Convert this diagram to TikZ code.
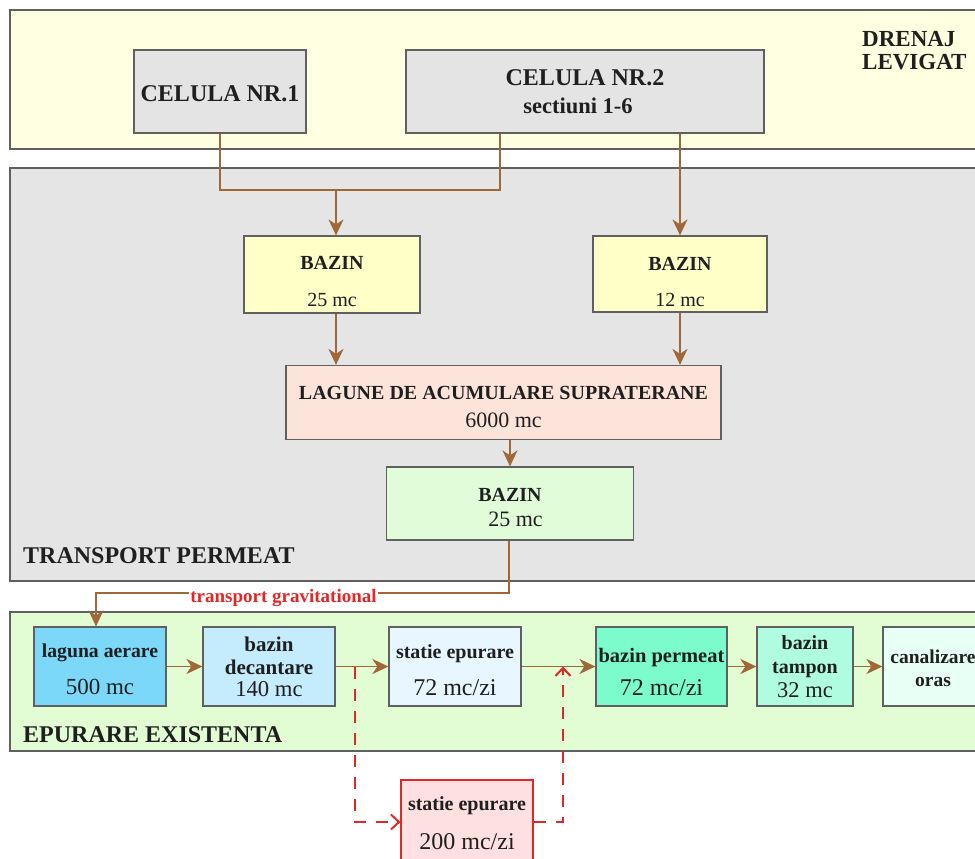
\documentclass[tikz,border=0pt]{standalone}
\usepackage{fontspec}
\setmainfont{Liberation Serif}
\usetikzlibrary{arrows.meta,calc}
\definecolor{pyel}{HTML}{FFFFE2}
\definecolor{pgray}{HTML}{E5E5E5}
\definecolor{pgreen}{HTML}{E2FCD4}
\definecolor{cgray}{HTML}{E4E4E4}
\definecolor{byel}{HTML}{FFFFC8}
\definecolor{lpink}{HTML}{FCE4DA}
\definecolor{lgreen}{HTML}{E0FCD8}
\definecolor{cblue}{HTML}{7CD8F8}
\definecolor{dblue}{HTML}{C4ECFC}
\definecolor{sblue}{HTML}{E8F6FF}
\definecolor{aqua}{HTML}{7CFCCC}
\definecolor{tamp}{HTML}{B0FCE0}
\definecolor{canal}{HTML}{E8FFF6}
\definecolor{spink}{HTML}{FFE0E0}
\definecolor{brn}{HTML}{A06838}
\definecolor{redc}{HTML}{E02828}
\definecolor{edge}{HTML}{606060}
\newcommand\pd[1]{\rule{0pt}{#1pt}}
\begin{document}
\begin{tikzpicture}[x=1pt,y=-1pt,
  panel/.style={draw=edge,line width=1.4pt},
  box/.style={draw=edge,line width=1.2pt,align=center,inner sep=0pt,text=black!88},
  plabel/.style={font=\fontsize{24}{24}\selectfont\bfseries,text=black!88,inner sep=0pt},
  brownarr/.style={draw=brn,line width=1.7pt,-{Stealth[length=16pt,width=15pt,inset=5pt]}},
  brownline/.style={draw=brn,line width=1.7pt},
  reddash/.style={draw=redc,line width=1.6pt,dash pattern=on 12pt off 10pt,-{Straight Barb[length=8pt,width=15pt,line width=2pt]}}]
\useasboundingbox (0,0) rectangle (975,859);
\clip (0,0) rectangle (975,859);
% panels
\path[panel,fill=pyel] (10,10) rectangle (995,149);
\path[panel,fill=pgray] (10,168) rectangle (995,581);
\path[panel,fill=pgreen] (10,612) rectangle (995,751);
\node[plabel,anchor=north west,align=left,font=\fontsize{23}{23.5}\selectfont\bfseries] (drenaj) at (862,31) {DRENAJ\\LEVIGAT};
\node[plabel,anchor=base west] (tp) at (23,563) {TRANSPORT PERMEAT};
\node[plabel,anchor=base west] (ee) at (23,742) {EPURARE EXISTENTA};
% top boxes
\node[box,fill=cgray,minimum width=172pt,minimum height=83pt,font=\fontsize{24}{24}\selectfont\bfseries] (c1) at (220,91.5) {\pd{20.4}CELULA NR.1};
\node[box,fill=cgray,minimum width=358pt,minimum height=83pt,font=\fontsize{24}{27.6}\selectfont\bfseries] (c2) at (585,91.5) {\pd{16}CELULA NR.2\\\fontsize{22.5}{27.6}\selectfont sectiuni 1-6\hspace*{14pt}};
% middle
\node[box,fill=byel,minimum width=176pt,minimum height=77pt,font=\fontsize{20}{36.5}\selectfont] (b1) at (332,274.5) {\pd{27.5}{\bfseries BAZIN}\\25 mc};
\node[box,fill=byel,minimum width=174pt,minimum height=76pt,font=\fontsize{20}{35.5}\selectfont] (b2) at (680,274) {\pd{28.9}{\bfseries BAZIN}\\12 mc};
\node[box,fill=lpink,minimum width=435pt,minimum height=74pt,font=\fontsize{20}{27.7}\selectfont] (lag) at (503.5,402.5) {\pd{22.7}{\bfseries LAGUNE DE ACUMULARE SUPRATERANE}\\\fontsize{22}{27.7}\selectfont 6000 mc};
\node[box,fill=lgreen,minimum width=247pt,minimum height=73pt,font=\fontsize{20}{24.3}\selectfont] (b3) at (510,503.5) {\pd{21.1}{\bfseries BAZIN}\\\fontsize{22}{24.3}\selectfont\ \ 25 mc};
% bottom row
\node[box,fill=cblue,minimum width=132pt,minimum height=79pt,font=\fontsize{19.7}{37}\selectfont] (la) at (100,666.5) {\pd{20}{\bfseries laguna aerare}\\\fontsize{23}{37}\selectfont 500 mc};
\node[box,fill=dblue,minimum width=132pt,minimum height=79pt,font=\fontsize{21}{22.5}\selectfont] (bd) at (269,666.5) {\pd{16}{\bfseries bazin}\\{\bfseries decantare}\\\fontsize{22.7}{22.5}\selectfont 140 mc};
\node[box,fill=sblue,minimum width=132pt,minimum height=79pt,font=\fontsize{20}{37}\selectfont] (se) at (455,666.5) {\pd{20.5}{\bfseries statie epurare}\\\fontsize{24}{37}\selectfont 72 mc/zi};
\node[box,fill=aqua,minimum width=131pt,minimum height=79pt,font=\fontsize{20.5}{33}\selectfont] (bp) at (661.5,666.5) {\pd{24.5}{\bfseries bazin permeat}\\\fontsize{24}{33}\selectfont 72 mc/zi};
\node[box,fill=tamp,minimum width=96pt,minimum height=79pt,font=\fontsize{20}{24}\selectfont] (bt) at (805,666.5) {\pd{15}{\bfseries bazin}\\{\bfseries tampon}\\\fontsize{22.5}{24}\selectfont 32 mc};
\node[box,fill=canal,minimum width=100pt,minimum height=79pt,font=\fontsize{19.5}{23}\selectfont\bfseries] (co) at (933,666.5) {\pd{17}canalizare\\oras};
\node[box,draw=redc,fill=spink,minimum width=132pt,minimum height=84pt,font=\fontsize{20}{39}\selectfont] (se2) at (467,822) {\pd{15.5}{\bfseries statie epurare}\\\fontsize{24}{39}\selectfont 200 mc/zi};
% top connectors
\coordinate (c2o) at ($(c2.south)+(-85,0)$);
\coordinate (j1) at (336,190);
\draw[brownline] (c1.south) |- (j1) -| (c2o);
\draw[brownarr] (j1) -- (j1 |- b1.north);
\draw[brownarr] (c2.south -| b2.north) -- (b2.north);
\draw[brownarr] (j1 |- b1.south) -- (j1 |- lag.north);
\draw[brownarr] (b2.south) -- (b2.south |- lag.north);
\draw[brownarr] (lag.south -| b3.north) -- (b3.north);
% gravitational transport
\coordinate (g1) at (509,593);
\coordinate (g2) at (96,593);
\draw[brownarr] (b3.south -| g1) -- (g1) -- (g2) -- (g2 |- la.north);
\node[fill=white,text=redc,inner sep=1pt,anchor=base,font=\fontsize{19}{20}\selectfont\bfseries] (tg) at (283.5,602.5) {transport gravitational};
% bottom row arrows
\draw[brownarr] (la.east) -- (bd.west);
\draw[brownarr] (bd.east) -- (se.west);
\draw[brownarr] (se.east) -- (bp.west);
\draw[brownarr] (bp.east) -- (bt.west);
\draw[brownarr] (bt.east) -- (co.west);
% red dashed bypass
\coordinate (lj) at (355,666.5);
\coordinate (rj) at (563,666.5);
\draw[reddash] (lj) |- (se2.west);
\draw[reddash] (se2.east) -| (rj);
\end{tikzpicture}
\end{document}
